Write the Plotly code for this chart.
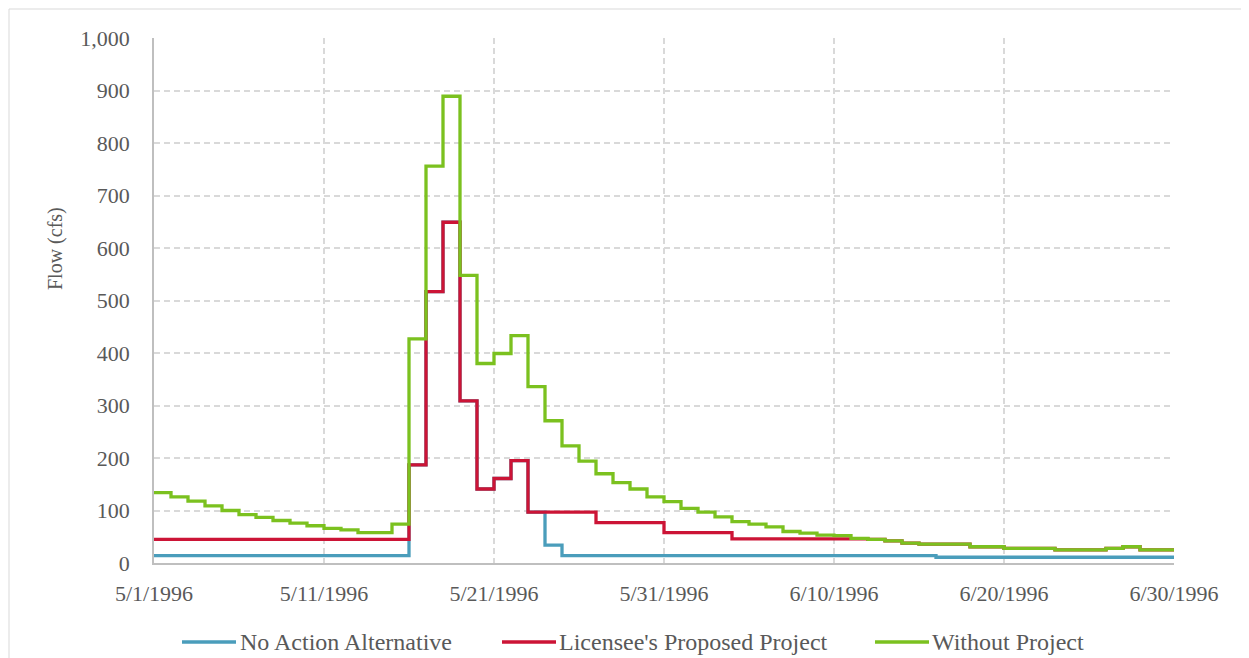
import pandas as pd
import plotly.graph_objects as go

# Daily dates 5/1/1996 .. 6/30/1996
dates = list(pd.date_range("1996-05-01", "1996-06-30", freq="D"))

without_project = [134, 126, 118, 109, 100, 92, 87, 81, 76, 71,
                   66, 63, 58, 58, 74, 427, 756, 889, 548, 380,
                   399, 433, 336, 271, 223, 194, 170, 153, 141, 126,
                   117, 104, 97, 88, 79, 74, 69, 60, 57, 53,
                   52, 47, 45, 42, 38, 36, 36, 36, 31, 31,
                   28, 28, 28, 25, 25, 25, 28, 31, 25, 25,
                   22]

licensee = [45, 45, 45, 45, 45, 45, 45, 45, 45, 45,
            45, 45, 45, 45, 45, 187, 517, 649, 309, 141,
            161, 195, 97, 97, 97, 97, 77, 77, 77, 77,
            58, 58, 58, 58, 46, 46, 46, 46, 46, 46,
            46, 46, 45, 42, 38, 36, 36, 36, 31, 31,
            28, 28, 28, 25, 25, 25, 28, 31, 25, 25,
            22]

no_action = [14, 14, 14, 14, 14, 14, 14, 14, 14, 14,
             14, 14, 14, 14, 14, 187, 517, 649, 309, 141,
             161, 195, 97, 34, 14, 14, 14, 14, 14, 14,
             14, 14, 14, 14, 14, 14, 14, 14, 14, 14,
             14, 14, 14, 14, 14, 14, 11, 11, 11, 11,
             11, 11, 11, 11, 11, 11, 11, 11, 11, 11,
             11]

series_names = ["No Action Alternative", "Licensee's Proposed Project", "Without Project"]
series_colors = ["#4a9dbb", "#cc1436", "#7bc11f"]
series_values = [no_action, licensee, without_project]

tick_dates = ["1996-05-01", "1996-05-11", "1996-05-21", "1996-05-31",
              "1996-06-10", "1996-06-20", "1996-06-30"]
tick_labels = ["5/1/1996", "5/11/1996", "5/21/1996", "5/31/1996",
               "6/10/1996", "6/20/1996", "6/30/1996"]
y_ticks = [0, 100, 200, 300, 400, 500, 600, 700, 800, 900, 1000]

FONT = "Liberation Serif"
TXT = "#595959"
GRID = "#d9d9d9"

fig = go.Figure()
for name, col, vals in zip(series_names, series_colors, series_values):
    fig.add_trace(go.Scatter(
        x=dates, y=vals, name=name, mode="lines",
        line=dict(color=col, width=3.3, shape="hv"),
        showlegend=False))

OFF = 8  # page body margin
W, H = 1249 - OFF, 658 - OFF
L, R, T, B = 154 - OFF, 1174 - OFF, 38 - OFF, 563 - OFF

fig.update_layout(
    width=W, height=H,
    margin=dict(l=L, r=W - R, t=T, b=H - B, autoexpand=False),
    paper_bgcolor="white", plot_bgcolor="white",
    font=dict(family=FONT, color=TXT, size=21),
)
fig.update_xaxes(
    type="date", range=["1996-05-01", "1996-06-30"],
    tickvals=tick_dates, ticktext=tick_labels,
    showgrid=True, gridcolor=GRID, griddash="6px,4px", gridwidth=1.5,
    showline=True, linecolor="#bfbfbf", linewidth=1.5,
    ticks="", ticklabelstandoff=10, zeroline=False,
    tickfont=dict(family=FONT, color=TXT, size=22),
)
fig.update_yaxes(
    range=[0, 1000], tickvals=y_ticks, tickformat=",",
    showgrid=True, gridcolor=GRID, griddash="6px,4px", gridwidth=1.5,
    showline=True, linecolor="#bfbfbf", linewidth=1.5,
    ticks="", ticklabelstandoff=18, zeroline=False,
    tickfont=dict(family=FONT, color=TXT, size=22),
)

def px_x(p):
    return (p - OFF - L) / (R - L)

def px_y(p):
    return (B - (p - OFF)) / (B - T)

shapes = []
annotations = []
# outer border (top + left visible)
shapes.append(dict(type="rect", xref="paper", yref="paper",
                   x0=px_x(9), x1=px_x(1300), y0=px_y(700), y1=px_y(9),
                   line=dict(color="#d9d9d9", width=1), fillcolor="rgba(0,0,0,0)",
                   layer="below"))
# y axis title
annotations.append(dict(text="Flow (cfs)", xref="paper", yref="paper",
                        x=px_x(56), y=px_y(249), textangle=-90, showarrow=False,
                        font=dict(family=FONT, color=TXT, size=20),
                        xanchor="center", yanchor="middle"))
# custom legend
legend_pos = [(182, 236, 238), (502, 556, 557), (875, 929, 930)]
leg_y = 642
for (x0, x1, xt), name, col in zip(legend_pos, series_names, series_colors):
    shapes.append(dict(type="line", xref="paper", yref="paper",
                       x0=px_x(x0), x1=px_x(x1), y0=px_y(leg_y), y1=px_y(leg_y),
                       line=dict(color=col, width=3.3)))
    annotations.append(dict(text=name, xref="paper", yref="paper",
                            x=px_x(xt), y=px_y(leg_y), showarrow=False,
                            xanchor="left", yanchor="middle",
                            font=dict(family=FONT, color=TXT, size=24)))

fig.update_layout(shapes=shapes, annotations=annotations)
fig.write_html("out.html")
